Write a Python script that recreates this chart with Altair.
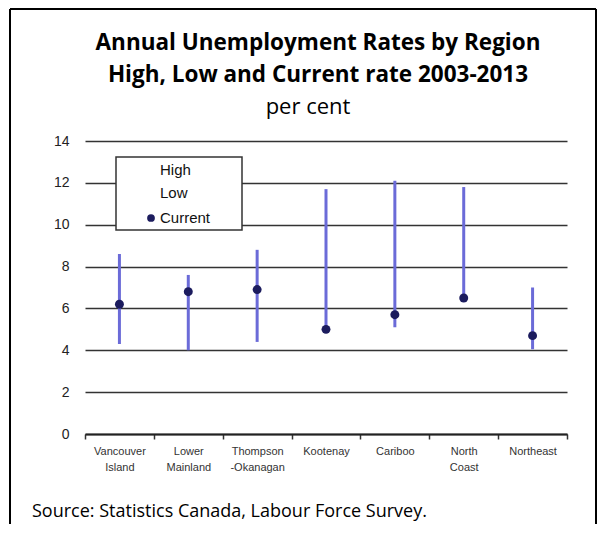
import altair as alt
import pandas as pd

# ---- data ----
regions = ["Vancouver|Island", "Lower|Mainland", "Thompson|-Okanagan", "Kootenay",
           "Cariboo", "North|Coast", "Northeast"]
high = [8.6, 7.6, 8.8, 11.7, 12.1, 11.8, 7.0]
low = [4.3, 4.0, 4.4, 5.0, 5.1, 6.5, 4.05]
current = [6.2, 6.8, 6.9, 5.0, 5.7, 6.5, 4.7]
y_ticks = [0, 2, 4, 6, 8, 10, 12, 14]

title_lines = ["Annual Unemployment Rates by Region", "High, Low and Current rate 2003-2013"]
subtitle = "per cent"
source = "Source: Statistics Canada, Labour Force Survey."
legend_labels = ["High", "Low", "Current"]

df = pd.DataFrame({"region": regions, "high": high, "low": low, "current": current})
one = pd.DataFrame({"k": [0]})

W, H = 482, 293
PAD_L, PAD_T, PAD_R, PAD_B = 77, 133, 30, 90

LINE_COLOR = "#6b6bd8"
DOT_COLOR = "#1c1c5e"
TITLE_FONT = "Open Sans"
AXIS_FONT = "Liberation Sans"

x = alt.X(
    "region:N", sort=regions,
    scale=alt.Scale(paddingInner=0, paddingOuter=0),
    axis=alt.Axis(
        title=None, labelAngle=0, labelExpr="split(datum.label, '|')",
        tickBand="extent", tickSize=5, tickWidth=1.5, tickColor="#333",
        domainColor="#222", domainWidth=2, grid=False,
        labelFont=AXIS_FONT, labelFontSize=11, labelFontWeight="normal",
        labelLineHeight=16, labelPadding=6, labelColor="#333",
    ),
)
y = alt.Y(
    "low:Q",
    scale=alt.Scale(domain=[0, 14], nice=False),
    axis=alt.Axis(
        title=None, values=y_ticks, grid=True, gridColor="#333", gridWidth=1.5,
        domain=False, ticks=False, labelFont=AXIS_FONT, labelFontSize=14,
        labelFontWeight="normal", labelPadding=16, labelColor="#222",
    ),
)

rules = alt.Chart(df).mark_rule(color=LINE_COLOR, strokeWidth=3).encode(
    x=x, y=y, y2="high:Q"
)
dots = alt.Chart(df).mark_circle(color=DOT_COLOR, opacity=1, size=80).encode(
    x=alt.X("region:N", sort=regions), y=alt.Y("current:Q")
)

# legend box
leg_box = alt.Chart(one).mark_rect(fill="white", stroke="#333", strokeWidth=1.5).encode(
    x=alt.value(31), x2=alt.value(157), y=alt.value(16), y2=alt.value(89)
)
leg_df = pd.DataFrame({"label": legend_labels, "ypos": [29, 52, 77]})
leg_text = alt.Chart(leg_df).mark_text(
    align="left", baseline="middle", font=AXIS_FONT, fontSize=15, color="#111"
).encode(x=alt.value(75), y=alt.Y("ypos:Q", scale=None), text="label:N")
leg_dot = alt.Chart(one).mark_circle(color=DOT_COLOR, opacity=1, size=60).encode(
    x=alt.value(66), y=alt.value(77)
)

# titles
t_df = pd.DataFrame({"t": title_lines, "ypos": [-98, -66]})
titles = alt.Chart(t_df).mark_text(
    align="center", baseline="middle", font=TITLE_FONT, fontSize=22.5,
    fontWeight="bold", color="#000"
).encode(x=alt.value(233), y=alt.Y("ypos:Q", scale=None), text="t:N")
sub = alt.Chart(one).mark_text(
    align="center", baseline="middle", font=TITLE_FONT, fontSize=22, color="#000",
    text=subtitle
).encode(x=alt.value(223), y=alt.value(-34))
src = alt.Chart(one).mark_text(
    align="left", baseline="middle", font=TITLE_FONT, fontSize=18, color="#000",
    text=source
).encode(x=alt.value(-53), y=alt.value(371))

# outer frame (left, top, right)
frame_left = alt.Chart(one).mark_rule(color="#000", strokeWidth=2).encode(
    x=alt.value(-75), y=alt.value(-132), y2=alt.value(H + PAD_B + 5)
)
frame_right = alt.Chart(one).mark_rule(color="#000", strokeWidth=2).encode(
    x=alt.value(511), y=alt.value(-132), y2=alt.value(H + PAD_B + 5)
)
frame_top = alt.Chart(one).mark_rule(color="#000", strokeWidth=2).encode(
    x=alt.value(-75), x2=alt.value(511), y=alt.value(-132)
)

chart = alt.layer(
    rules, dots, leg_box, leg_text, leg_dot, titles, sub, src,
    frame_left, frame_right, frame_top
).properties(
    width=W, height=H,
    autosize=alt.AutoSizeParams(type="none"),
    padding={"left": PAD_L, "top": PAD_T, "right": PAD_R, "bottom": PAD_B},
    background="white",
).configure_view(stroke=None)

chart.save("out.html", embed_options={"renderer": "svg", "actions": False})
